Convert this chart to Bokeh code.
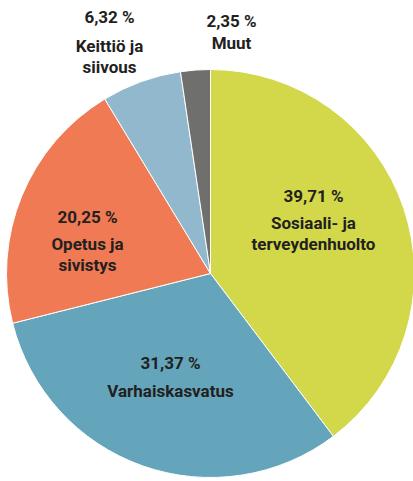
import math
from bokeh.plotting import figure
from bokeh.models import ColumnDataSource
from bokeh.core.properties import value
from bokeh.embed import file_html
from bokeh.resources import INLINE

# ---- data ----
categories = ["Sosiaali- ja terveydenhuolto", "Varhaiskasvatus", "Opetus ja sivistys",
              "Keittiö ja siivous", "Muut"]
label_lines = [["Sosiaali- ja", "terveydenhuolto"], ["Varhaiskasvatus"],
               ["Opetus ja", "sivistys"], ["Keittiö ja", "siivous"], ["Muut"]]
shares = [39.71, 31.37, 20.25, 6.32, 2.35]
colors = ["#d3d84b", "#64a5bb", "#ef7a53", "#91b8cc", "#6f6f6e"]

# ---- layout ----
W, H = 413, 481
def px(x): return x
def py(y): return H - y

cx, cy, R = px(210), py(273), 204
# label anchor (page px): x center, y of percentage line, y of first name line
label_pos = [(313, 195, 222), (170, 362, 390), (87, 216, 243), (109, 16, 45), (231, 20, 42)]
line_gap = 21

total = sum(shares)
starts, ends = [], []
a = math.pi / 2
for s in shares:
    span = 2 * math.pi * s / total
    starts.append(a)
    ends.append(a - span)
    a -= span

p = figure(width=W, height=H, x_range=(0, W), y_range=(0, H),
           output_backend="svg", toolbar_location=None, min_border=0)
p.axis.visible = False
p.grid.visible = False
p.outline_line_color = None
p.background_fill_color = "white"
p.border_fill_color = "white"

src = ColumnDataSource(dict(start=starts, end=ends, color=colors, cat=categories))
p.wedge(x=cx, y=cy, radius=R, radius_units="screen", start_angle="start", end_angle="end",
        direction="clock", fill_color="color", line_color="white", line_width=1, source=src)

tx, ty, tt = [], [], []
for i, v in enumerate(shares):
    x0, yp, yl = label_pos[i]
    tx.append(px(x0)); ty.append(py(yp)); tt.append(f"{v:.2f}".replace(".", ",") + " %")
    for j, line in enumerate(label_lines[i]):
        tx.append(px(x0)); ty.append(py(yl + j * line_gap)); tt.append(line)

p.text(x=tx, y=ty, text=tt, text_align="center", text_baseline="middle",
       text_font=value("Roboto"), text_font_style="bold", text_font_size="17px",
       text_color="#231f20")

open("out.html", "w").write(file_html(p, INLINE))
